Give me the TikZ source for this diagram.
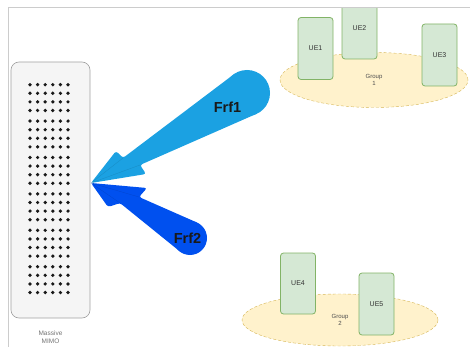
\documentclass[tikz,border=0pt]{standalone}
\usepackage{fontspec}
\setmainfont{Liberation Sans}
\usetikzlibrary{shapes.geometric, positioning}
\definecolor{uefill}{HTML}{D5E8D4}
\definecolor{uedraw}{HTML}{82B366}
\definecolor{grpfill}{HTML}{FFF2CC}
\definecolor{grpdraw}{HTML}{D6B656}
\definecolor{beamlight}{HTML}{1BA1E2}
\definecolor{beamdark}{HTML}{0050EF}
\definecolor{panelfill}{HTML}{F5F5F5}
\definecolor{paneldraw}{HTML}{A0A0A0}

\begin{document}
\begin{tikzpicture}[x=1pt,y=-1pt,
  ue/.style={draw=uedraw,fill=uefill,rounded corners=3pt,line width=0.8pt,
    minimum width=35pt,minimum height=62pt,inner sep=0pt,text=black!80,
    font=\fontsize{7}{8}\selectfont},
  grp/.style={ellipse,draw=grpdraw,fill=grpfill,dashed,dash pattern=on 3pt off 2pt,
    inner sep=0pt,align=center,text=black!70,font=\fontsize{6}{7}\selectfont},
  panel/.style={draw=paneldraw,fill=panelfill,rounded corners=8pt,line width=0.6pt,
    minimum width=79pt,minimum height=256pt,inner sep=0pt},
  beamlbl/.style={font=\fontsize{14.5}{16}\selectfont\bfseries,text=black!90},
  seam/.style={line width=0.3pt,opacity=0.45}]
  \useasboundingbox (0,0) rectangle (470,347);

  % user groups
  \node[grp,minimum width=188pt,minimum height=55pt] (group1) at (374,80) {Group\\1};
  \node[grp,minimum width=196pt,minimum height=52pt] (group2) at (340,320) {Group\\2};

  % user equipment
  \node[ue] (ue1) at (315.5,48.5) {UE1};
  \begin{scope}
    \clip (0,8.5) rectangle (470,347);
    \node[ue] (ue2) at (359.5,28) {UE2};
  \end{scope}
  \node[ue] (ue3) at (439.5,55) {UE3};
  \node[ue,minimum height=61pt] (ue4) at (298,283.5) {UE4};
  \node[ue] (ue5) at (376.5,304) {UE5};

  % massive MIMO array
  \node[panel] (mimo) at (50.5,190) {};
  \foreach \r in {0,...,23}{
    \pgfmathsetmacro\dy{84.7+8.6*\r+2*floor(\r/4)}
    \foreach \c in {0,...,5}
      \fill[black!90] (30+7.6*\c,\dy) circle[radius=1.85pt];
  }
  \node[below=9pt of mimo,align=center,text=black!55,
    font=\fontsize{6.5}{7.5}\selectfont] (mimolbl) {Massive\\MIMO};

  % beams
  \coordinate (tip) at (91,183);
  \fill[beamlight,rounded corners=2.5pt] (tip) -- (116,151) -- (123,158)
    -- (235.6,73) -- (258.4,113) -- (140,165) -- (146,174) -- cycle;
  \fill[beamlight] (247,93) circle[radius=23];
  \draw[seam,beamlight!70!black] (tip) -- (123,158) (tip) -- (140,165);
  \fill[beamdark,rounded corners=2.5pt] (tip) -- (147,188) -- (139,197)
    -- (198.3,223.1) -- (181.7,252.9) -- (120,203) -- (108,207) -- cycle;
  \fill[beamdark] (190,238) circle[radius=17];
  \draw[seam,beamdark!70!black] (tip) -- (139,197) (tip) -- (120,203);
  \node[beamlbl] (frf1) at (227.5,107.5) {Frf1};
  \node[beamlbl] (frf2) at (187.5,238.5) {Frf2};

  % frame
  \draw[gray!40,line width=1.3pt] (8.5,347) -- (8.5,7.5) -- (470,7.5);
\end{tikzpicture}
\end{document}
